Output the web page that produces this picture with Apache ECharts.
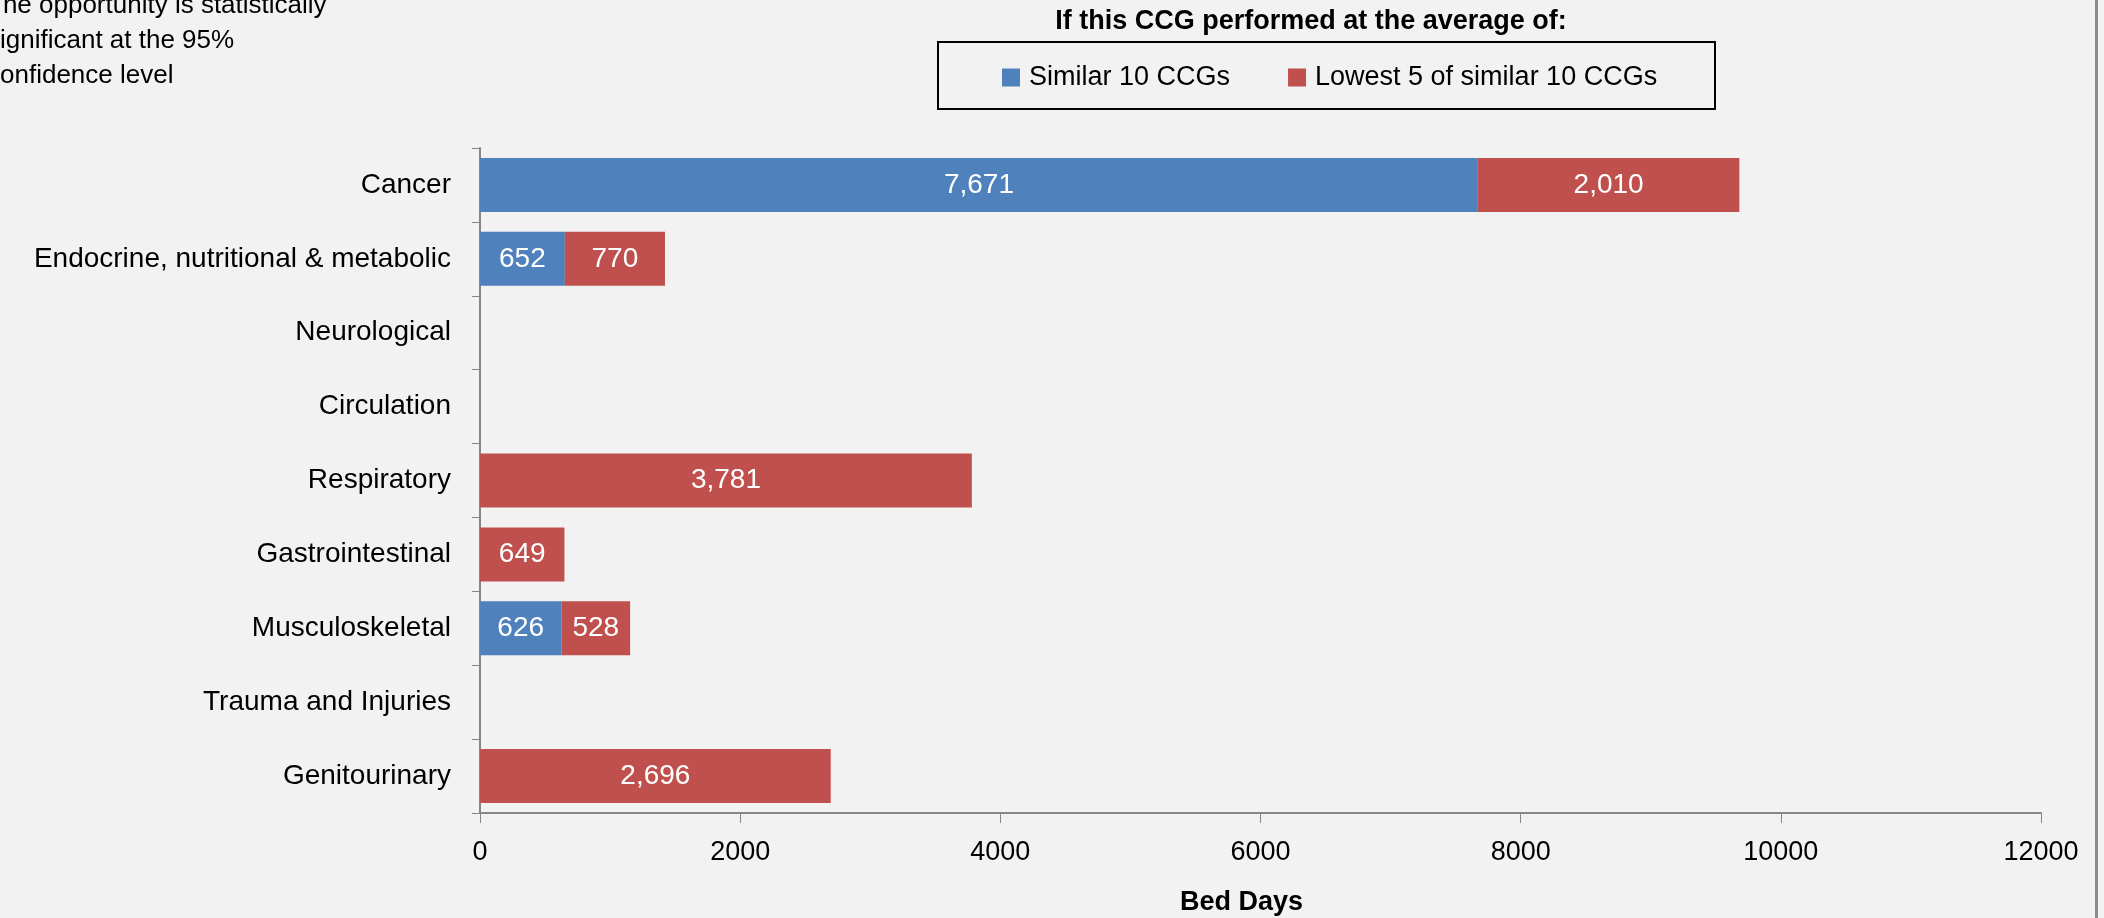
<!DOCTYPE html>
<html>
<head>
<meta charset="utf-8">
<script src="https://cdn.jsdelivr.net/npm/echarts@6/dist/echarts.min.js"></script>
<style>
  html, body { margin: 0; padding: 0; background: #f2f2f2; }
  #chart { width: 2104px; height: 918px; }
</style>
</head>
<body>
<div id="chart"></div>
<script>
// categories, top to bottom
const categories = [
    'Cancer',
    'Endocrine, nutritional & metabolic',
    'Neurological',
    'Circulation',
    'Respiratory',
    'Gastrointestinal',
    'Musculoskeletal',
    'Trauma and Injuries',
    'Genitourinary'
]
// bed days if at average of similar 10 CCGs
const similar10 = [7671, 652, null, null, null, null, 626, null, null]
// additional bed days if at average of lowest 5
const lowest5 = [2010, 770, null, null, 3781, 649, 528, null, 2696]

const xTicks = { min: 0, max: 12000, interval: 2000 }

const FONT = '"Liberation Sans", "DejaVu Sans", sans-serif'
const axisGrey = '#868686'

function fmt(p) {
    return p.value == null ? '' : Number(p.value).toLocaleString('en-US')
}

const myChart = echarts.init(document.getElementById('chart'))

const option = {
    backgroundColor: '#f2f2f2',
    textStyle: { fontFamily: FONT },
    title: {
        text: 'If this CCG performed at the average of:',
        left: 1306,
        textAlign: 'center',
        top: 3,
        textStyle: { fontFamily: FONT, fontSize: 27, fontWeight: 'bold', color: '#000' }
    },
    legend: {
        data: ['Similar 10 CCGs', 'Lowest 5 of similar 10 CCGs'],
        left: 997,
        top: 59,
        itemWidth: 18,
        itemHeight: 18,
        itemGap: 58,
        icon: 'rect',
        textStyle: { fontFamily: FONT, fontSize: 27, color: '#000', padding: [0, 0, 0, 4] }
    },
    graphic: [
        {
            type: 'rect',
            shape: { x: 938, y: 42, width: 777, height: 67 },
            style: { fill: 'none', stroke: '#000', lineWidth: 2 }
        },
        {
            type: 'text',
            left: -13,
            top: -12,
            style: {
                text: 'The opportunity is statistically\nsignificant at the 95%\nconfidence level',
                font: '26px ' + FONT,
                lineHeight: 35,
                fill: '#000'
            }
        },
        {
            type: 'rect',
            shape: { x: 2095, y: 0, width: 3, height: 918 },
            style: { fill: '#8c8c8c' }
        }
    ],
    grid: { left: 480, right: 63, top: 148, bottom: 105, outerBoundsMode: 'none' },
    xAxis: {
        type: 'value',
        min: xTicks.min,
        max: xTicks.max,
        interval: xTicks.interval,
        name: 'Bed Days',
        nameLocation: 'middle',
        nameGap: 76,
        nameTextStyle: { fontFamily: FONT, fontSize: 27, fontWeight: 'bold', color: '#000', padding: [0, 38, 0, 0] },
        axisLine: { show: true, lineStyle: { color: axisGrey, width: 2 } },
        axisTick: { show: true, length: 10, lineStyle: { color: axisGrey } },
        axisLabel: {
            margin: 26, fontSize: 27, color: '#000', fontFamily: FONT,
            formatter: function (v) { return String(v) }
        },
        splitLine: { show: false }
    },
    yAxis: {
        type: 'category',
        data: categories,
        inverse: true,
        axisLine: { show: true, lineStyle: { color: axisGrey, width: 2 } },
        axisTick: { show: true, length: 8, lineStyle: { color: axisGrey } },
        axisLabel: { margin: 29, fontSize: 28, color: '#000', fontFamily: FONT }
    },
    series: [
        {
            name: 'Similar 10 CCGs',
            type: 'bar',
            stack: 'total',
            barWidth: 54,
            data: similar10,
            itemStyle: { color: '#4f81bd' },
            label: { show: true, position: 'inside', color: '#fff', fontSize: 28, fontFamily: FONT, formatter: fmt }
        },
        {
            name: 'Lowest 5 of similar 10 CCGs',
            type: 'bar',
            stack: 'total',
            barWidth: 54,
            data: lowest5,
            itemStyle: { color: '#c0504d' },
            label: { show: true, position: 'inside', color: '#fff', fontSize: 28, fontFamily: FONT, formatter: fmt }
        }
    ]
}

myChart.setOption(option)
window.addEventListener('resize', function () {
    myChart.resize()
})
</script>
</body>
</html>
